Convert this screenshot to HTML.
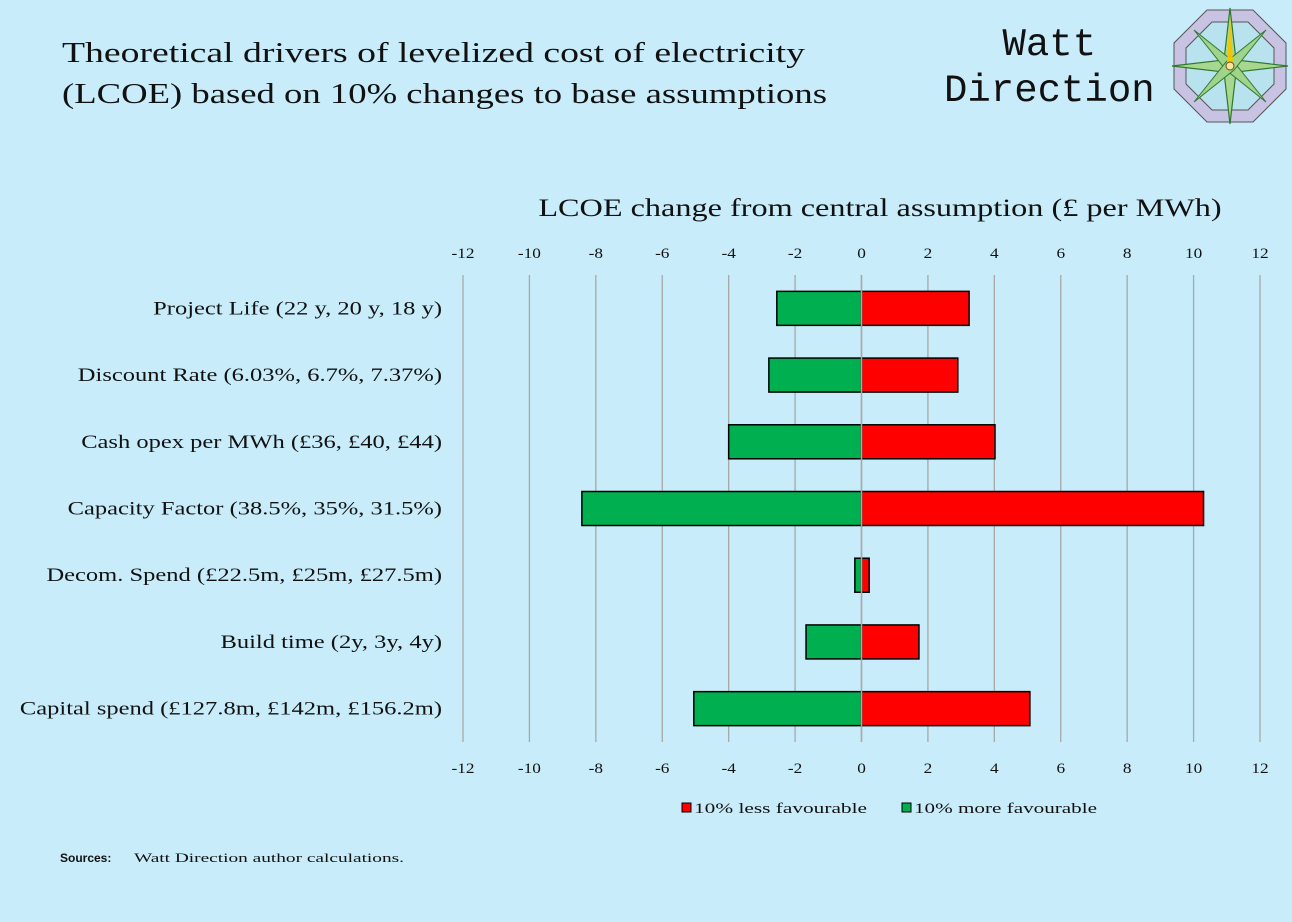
<!DOCTYPE html>
<html><head><meta charset="utf-8"><style>
html,body{margin:0;padding:0;}
body{width:1292px;height:922px;background:#c8ecfa;position:relative;overflow:hidden;font-family:"Liberation Serif",serif;}
.brand{position:absolute;left:944px;top:22px;font-family:"Liberation Mono",monospace;font-size:39px;line-height:46px;color:#111;text-align:center;}
</style></head><body>
<div class="brand">Watt<br>Direction</div>
<svg style="position:absolute;left:1168px;top:4px" width="124" height="124" viewBox="-62 -62 124 124">
<polygon points="-23,-56 23,-56 56,-23 56,23 23,56 -23,56 -56,23 -56,-23" fill="#c9c3e3" stroke="#555" stroke-width="1"/>
<polygon points="-18,-44 18,-44 44,-18 44,18 18,44 -18,44 -44,18 -44,-18" fill="#b9e2ef" stroke="#555" stroke-width="1"/>
<polygon points="0,-58 6,-6 58,0 6,6 0,58 -6,6 -58,0 -6,-6" fill="#a8d88f" stroke="#2d7a2d" stroke-width="1.2"/>
<polygon points="-36,-36 4,-4 36,36 -4,4" fill="#9fd48a" stroke="#2d7a2d" stroke-width="1"/>
<polygon points="36,-36 4,4 -36,36 -4,-4" fill="#9fd48a" stroke="#2d7a2d" stroke-width="1"/>
<polygon points="0,-50 3,-4 -3,-4" fill="#f2c500"/>
<circle cx="0" cy="0" r="4" fill="#f4e6a0" stroke="#7a4a00"/>
</svg>
<svg id="chart" width="1292" height="922" style="position:absolute;left:0;top:0"></svg>
<script>
const categories=["Project Life (22 y, 20 y, 18 y)","Discount Rate (6.03%, 6.7%, 7.37%)","Cash opex per MWh (£36, £40, £44)","Capacity Factor (38.5%, 35%, 31.5%)","Decom. Spend (£22.5m, £25m, £27.5m)","Build time (2y, 3y, 4y)","Capital spend (£127.8m, £142m, £156.2m)"];
const lessFavourable=[3.24,2.9,4.02,10.3,0.23,1.73,5.07];
const moreFavourable=[-2.55,-2.79,-4.0,-8.42,-0.2,-1.67,-5.05];
const ticks=[-12,-10,-8,-6,-4,-2,0,2,4,6,8,10,12];
const NS="http://www.w3.org/2000/svg";
const svg=document.getElementById('chart');
const x=v=>861.5+v*(1260-463)/24;
const top0=275,bot0=742,band=(bot0-top0)/categories.length;
const yc=i=>top0+band*(i+0.5);
function mk(t,a,parent){const e=document.createElementNS(NS,t);for(const k in a)e.setAttribute(k,a[k]);(parent||svg).appendChild(e);return e;}
function stretch(el,f){const w=el.getComputedTextLength();el.setAttribute('textLength',w*f);el.setAttribute('lengthAdjust','spacingAndGlyphs');}
const t1=mk('text',{x:62,y:62,'font-size':29,fill:'#111','font-family':'Liberation Serif, serif'});
t1.textContent="Theoretical drivers of levelized cost of electricity";


t1.setAttribute('textLength',743);
const t2=mk('text',{x:62,y:103,'font-size':29,fill:'#111','font-family':'Liberation Serif, serif'});
t2.textContent="(LCOE) based on 10% changes to base assumptions";


t2.setAttribute('textLength',765);
[t1,t2].forEach(t=>t.setAttribute('lengthAdjust','spacingAndGlyphs'));
ticks.forEach(t=>{
 const g=mk('line',{x1:x(t),x2:x(t),y1:top0,y2:bot0,stroke:'#a8a8a8','stroke-width':1.3});
 
 
 [258,773].forEach(yy=>{
  const l=mk('text',{x:x(t),y:yy,'text-anchor':'middle','font-size':15,fill:'#111','font-family':'Liberation Serif, serif'});
  l.textContent=t;
  
  
  stretch(l,1.15);
 });
});
const at=mk('text',{x:880,y:216,'text-anchor':'middle','font-size':25,fill:'#111','font-family':'Liberation Serif, serif'});
at.textContent="LCOE change from central assumption (£ per MWh)";


stretch(at,1.29);
const h=34;
categories.forEach((c,i)=>{
 const cy=yc(i);
 const l=mk('text',{x:442,y:cy+6,'text-anchor':'end','font-size':19,fill:'#111','font-family':'Liberation Serif, serif'});
 l.textContent=c;
 
 
 stretch(l,1.29);
 const g=mk('rect',{x:x(moreFavourable[i]),y:cy-h/2,width:x(0)-x(moreFavourable[i]),height:h,fill:'#00b050',stroke:'#000','stroke-width':1.5});
 
 
 const r=mk('rect',{x:x(0),y:cy-h/2,width:x(lessFavourable[i])-x(0),height:h,fill:'#ff0000',stroke:'#000','stroke-width':1.5});
 
 
});
const z=mk('line',{x1:x(0),x2:x(0),y1:top0,y2:bot0,stroke:'#a8a8a8','stroke-width':1.5});


[[682,'#ff0000','10% less favourable'],[902,'#00b050','10% more favourable']].forEach(([lx,col,txt])=>{
 const s=mk('rect',{x:lx,y:803,width:9,height:9,fill:col,stroke:'#000','stroke-width':1});
 
 
 const t=mk('text',{x:lx+12,y:813,'font-size':15,fill:'#111','font-family':'Liberation Serif, serif'});
 t.textContent=txt;
 
 
 t.setAttribute('textLength',txt.indexOf('less')>0?173:183);
 t.setAttribute('lengthAdjust','spacingAndGlyphs');
});
const sb=mk('text',{x:60,y:862,'font-size':12,'font-weight':'bold',fill:'#111','font-family':'Liberation Sans, sans-serif'});
sb.textContent="Sources:";


const st=mk('text',{x:134,y:862,'font-size':13,fill:'#111','font-family':'Liberation Serif, serif'});
st.textContent="Watt Direction author calculations.";


st.setAttribute('textLength',270);
st.setAttribute('lengthAdjust','spacingAndGlyphs');
</script>
</body></html>
